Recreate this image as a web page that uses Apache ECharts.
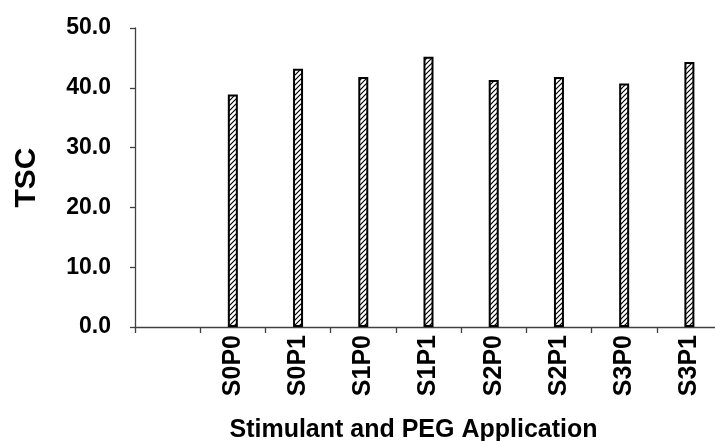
<!DOCTYPE html>
<html>
<head>
<meta charset="utf-8">
<script src="https://cdn.jsdelivr.net/npm/echarts@6/dist/echarts.min.js"></script>
<style>html,body{margin:0;padding:0;background:#fff}#c{width:715px;height:441px}</style>
</head>
<body>
<div id="c"></div>
<script>
const categories = ['', 'S0P0', 'S0P1', 'S1P0', 'S1P1', 'S2P0', 'S2P1', 'S3P0', 'S3P1'];
const tscValues = [null, 38.9, 43.2, 41.8, 45.2, 41.3, 41.8, 40.7, 44.3];
const yTicks = { min: 0, max: 50, interval: 10 };

function hatch() {
  const c = document.createElement('canvas');
  c.width = 5; c.height = 5;
  const g = c.getContext('2d');
  g.fillStyle = '#fff'; g.fillRect(0, 0, 5, 5);
  g.strokeStyle = '#000'; g.lineWidth = 1.2;
  g.beginPath();
  g.moveTo(-1, 6); g.lineTo(6, -1);
  g.moveTo(-1, 1); g.lineTo(1, -1);
  g.moveTo(4, 6); g.lineTo(6, 4);
  g.stroke();
  return c;
}

const chart = echarts.init(document.getElementById('c'));
const font = 'Liberation Sans, Arial, sans-serif';
chart.setOption({
  animation: false,
  grid: { left: 135, right: -7, top: 28, bottom: 114, containLabel: false, outerBoundsMode: 'none' },
  xAxis: {
    type: 'category',
    data: categories,
    name: 'Stimulant and PEG Application',
    nameLocation: 'middle',
    nameGap: 91,
    nameTextStyle: { fontFamily: font, fontWeight: 'bold', fontSize: 25, color: '#000', padding: [0, 30, 0, 0] },
    axisLine: { lineStyle: { color: '#404040', width: 1.3 } },
    axisTick: { show: true, length: 6, alignWithLabel: false, lineStyle: { color: '#404040', width: 1.3 } },
    axisLabel: { rotate: 90, margin: 8, fontFamily: font, fontWeight: 'bold', fontSize: 25, color: '#000', interval: 0 }
  },
  yAxis: {
    type: 'value',
    min: yTicks.min, max: yTicks.max, interval: yTicks.interval,
    name: 'TSC',
    nameLocation: 'middle',
    nameGap: 93,
    nameRotate: 90,
    nameTextStyle: { fontFamily: font, fontWeight: 'bold', fontSize: 30, color: '#000' },
    splitLine: { show: false },
    axisLine: { show: true, lineStyle: { color: '#404040', width: 1.3 } },
    axisTick: { show: true, length: 5, lineStyle: { color: '#404040', width: 1.3 } },
    axisLabel: { margin: 24, fontFamily: font, fontWeight: 'bold', fontSize: 23, color: '#000', formatter: v => v.toFixed(1) }
  },
  series: [{
    type: 'bar',
    data: tscValues,
    barWidth: 10,
    itemStyle: { color: { image: hatch(), repeat: 'repeat' }, borderColor: '#000', borderWidth: 2 }
  }]
});
</script>
</body>
</html>
